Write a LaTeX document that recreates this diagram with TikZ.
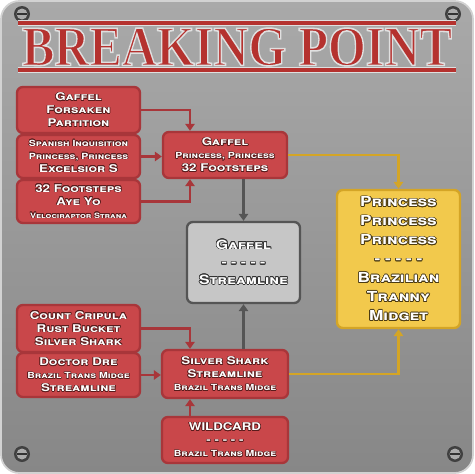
\documentclass[tikz,border=0pt]{standalone}
\usepackage{fontspec}
\setmainfont{TeX Gyre Heros}[FakeStretch=1.25]
\newfontfamily\titlefont{Liberation Serif}
\usepackage{contour}
\contourlength{0.45pt}
\usetikzlibrary{arrows.meta,positioning}

\definecolor{boxred}{HTML}{C9474A}
\definecolor{boxredline}{HTML}{A8363A}
\definecolor{reddark}{HTML}{5A1C1C}
\definecolor{boxgrey}{HTML}{C6C6C6}
\definecolor{greyline}{HTML}{555555}
\definecolor{greydark}{HTML}{333333}
\definecolor{boxgold}{HTML}{F2C94C}
\definecolor{goldline}{HTML}{D4A526}
\definecolor{golddark}{HTML}{4A3A12}
\definecolor{titlered}{HTML}{B5322F}
\definecolor{platetop}{HTML}{A9A9A9}
\definecolor{platebot}{HTML}{878787}

\newcommand{\lgsz}{\fontsize{9.1}{11.1}\selectfont}
\newcommand{\smsz}{\fontsize{7.2}{11.1}\selectfont}
\newcommand{\xssz}{\fontsize{6.2}{11.1}\selectfont}
\newcommand{\lbl}[2][]{\contour{ocol}{#1\textsc{#2}}}
% stroked title text: stroke colour (r g b), stroke width, text
\newcommand{\outl}[3]{\special{pdf:code 2 Tr #2 w #1 RG}#3\special{pdf:code 0 Tr}}

\tikzset{
  box/.style={rounded corners=5pt, line width=2pt, align=center, text=white, inner sep=1pt},
  redbox/.style={box, fill=boxred, draw=boxredline, font=\bfseries\lgsz,
    execute at begin node={\colorlet{ocol}{reddark}}},
  greybox/.style={box, fill=boxgrey, draw=greyline, font=\bfseries\fontsize{10.8}{15}\selectfont,
    execute at begin node={\colorlet{ocol}{greydark}\contourlength{0.55pt}}},
  goldbox/.style={box, fill=boxgold, draw=goldline, font=\bfseries\fontsize{11.8}{16.2}\selectfont,
    execute at begin node={\colorlet{ocol}{golddark}\contourlength{0.55pt}}},
  link/.style={line width=2.2pt, -{Triangle[width=8pt,length=6pt]}},
  redarrow/.style={link, draw=boxredline},
  greyarrow/.style={link, draw=greyline},
  goldarrow/.style={link, draw=goldline},
}

\begin{document}
\begin{tikzpicture}[x=0.03cm, y=-0.03cm]
\useasboundingbox (0,0) rectangle (474,474);
\fill [white] (0,0) rectangle (474,474);
\shade [top color=platetop, bottom color=platebot, draw=gray!35, line width=1.5pt,
  rounded corners=0.55cm] (1,1) rectangle (473,473);
\foreach \sx/\sy in {22/14, 453/14, 22/454, 455/454} {
  \fill [black!75] (\sx,\sy) circle [radius=8];
  \fill [gray!65] (\sx,\sy) circle [radius=5.5];
  \draw [black!80, line width=1.2pt] (\sx-5,\sy) -- (\sx+5,\sy);
}

% title
\draw [gray!25, line width=4.5pt] (18,23) -- (456,23) (18,70) -- (456,70);
\draw [titlered, line width=2.6pt] (18,23) -- (456,23) (18,70) -- (456,70);
\node [inner sep=0pt] (title) at (237,47)
  {\resizebox{12.9cm}{1.12cm}{\color{titlered}\titlefont\bfseries\fontsize{40}{40}\selectfont
   \outl{0.88 0.88 0.88}{1.1}{BREAKING POINT}}};

% fighters
\node [redbox, minimum width=3.69cm, minimum height=1.38cm] (f1) at (78.5,110)
  {\lbl{Gaffel}\\\lbl{Forsaken}\\\lbl{Partition}};
\node [redbox, minimum width=3.69cm, minimum height=1.29cm] (f2) at (78.5,156.5)
  {\lbl[\smsz]{Spanish Inquisition}\\\lbl[\smsz]{Princess, Princess}\\\lbl{Excelsior S}};
\node [redbox, minimum width=3.69cm, minimum height=1.29cm] (f3) at (78.5,201.5)
  {\lbl{32 Footsteps}\\\lbl{Aye Yo}\\\lbl[\xssz]{Velociraptor Strana}};
\node [redbox, minimum width=3.69cm, minimum height=1.41cm] (f4) at (78.5,328.5)
  {\lbl{Count Cripula}\\\lbl{Rust Bucket}\\\lbl{Silver Shark}};
\node [redbox, minimum width=3.69cm, minimum height=1.32cm] (f5) at (78.5,375)
  {\lbl{Doctor Dre}\\\lbl[\smsz]{Brazil Trans Midge}\\\lbl{Streamline}};

% semis
\node [redbox, minimum width=3.72cm, minimum height=1.38cm] (s1) at (225,155)
  {\lbl{Gaffel}\\\lbl[\smsz]{Princess, Princess}\\\lbl{32 Footsteps}};
\node [redbox, minimum width=3.78cm, minimum height=1.44cm] (s2) at (225,374)
  {\lbl{Silver Shark}\\\lbl{Streamline}\\\lbl[\smsz]{Brazil Trans Midge}};
\node [redbox, minimum width=3.78cm, minimum height=1.38cm] (wc) at (225,440)
  {\lbl{WILDCARD}\\\lbl{- - - - -}\\\lbl[\smsz]{Brazil Trans Midge}};

% finals
\node [greybox, minimum width=3.39cm, minimum height=2.43cm] (fin) at (243.5,262.5)
  {\lbl{Gaffel}\\\lbl{- - - - -}\\\lbl{Streamline}};
\node [goldbox, minimum width=3.69cm, minimum height=4.14cm] (champ) at (398.5,259)
  {\lbl{Princess}\\\lbl{Princess}\\\lbl{Princess}\\\lbl{- - - - -}\\\lbl{Brazilian}\\\lbl{Tranny}\\\lbl{Midget}};

\coordinate (j) at (190,0);
\draw [redarrow] (f1.east) -| (j |- s1.north);
\draw [redarrow] (f2.east) -- (s1.west |- f2.east);
\draw [redarrow] (f3.east) -| (j |- s1.south);
\draw [redarrow] (f4.east) -| (j |- s2.north);
\draw [redarrow] (f5.east) -- (s2.west |- f5.east);
\draw [redarrow] (j |- wc.north) -- (j |- s2.south);
\draw [greyarrow] (fin.north |- s1.south) -- (fin.north);
\draw [greyarrow] (fin.south |- s2.north) -- (fin.south);
\draw [goldarrow] (s1.east) -| (champ.north);
\draw [goldarrow] (s2.east) -| (champ.south);
\end{tikzpicture}
\end{document}
